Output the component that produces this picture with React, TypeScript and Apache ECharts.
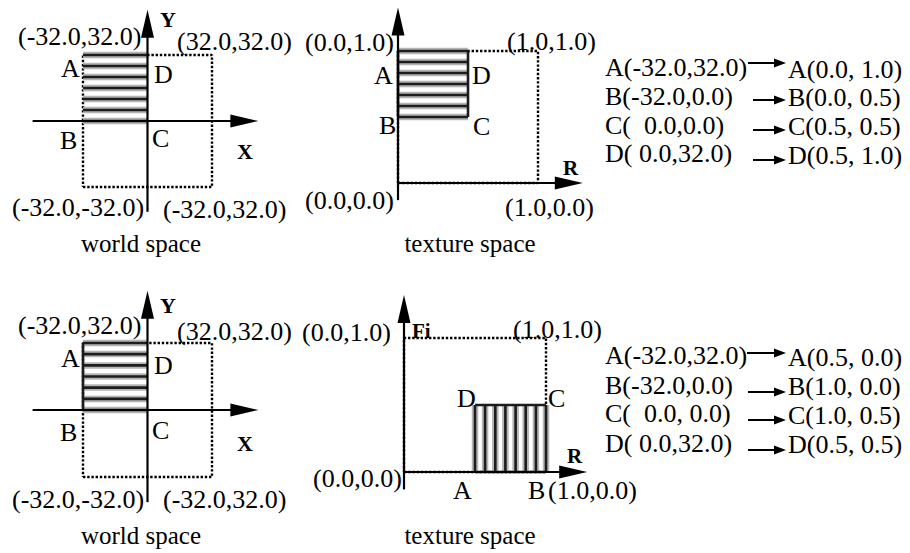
import React, { useEffect, useRef } from "react";
import * as echarts from "echarts";

// ---------- data ----------
const worldSquare = [[-32, -32], [32, -32], [32, 32], [-32, 32], [-32, -32]];
const texSquare = [[0, 0], [1, 0], [1, 1], [0, 1], [0, 0]];

// hatched rectangles [xMin, yMin, xMax, yMax]
const worldHatchRect = [-32, 0, 0, 32];
const texTopHatchRect = [0, 0.5, 0.5, 1];
const texBottomHatchRect = [0.5, 0, 1, 0.5];

// stripe positions
const worldStripesY = [0, 5.3, 10.7, 16, 21.3, 26.7, 32];
const texTopStripesV = [0.5, 0.583, 0.667, 0.75, 0.833, 0.917, 1.0];
const texBottomStripesU = [0.5, 0.571, 0.643, 0.714, 0.786, 0.857, 0.929, 1.0];

// axis arrows [x1, y1, x2(tip), y2(tip)]
const worldTopAxes = [[-57, 0, 55, 0], [0, -44, 0, 54]];
const worldBottomAxes = [[-57, 0, 55, 0], [0, -44, 0, 57]];
const texTopAxes = [[0, 0, 1.32, 0], [0, -0.13, 0, 1.33]];
const texBottomAxes = [[0, 0, 1.29, 0], [0, -0.13, 0, 1.32]];

// texts
const worldCornerLabels = ["(-32.0,32.0)", "(32.0,32.0)", "(-32.0,-32.0)", "(-32.0,32.0)"];
const texCornerLabels = ["(0.0,1.0)", "(1.0,1.0)", "(0.0,0.0)", "(1.0,0.0)"];
const vertexNames = ["A", "B", "C", "D"];
const axisNames = ["X", "Y", "R", "Fi"];
const captions = ["world space", "texture space"];
const topMapFrom = ["A(-32.0,32.0)", "B(-32.0,0.0)", "C(  0.0,0.0)", "D( 0.0,32.0)"];
const topMapTo = ["A(0.0, 1.0)", "B(0.0, 0.5)", "C(0.5, 0.5)", "D(0.5, 1.0)"];
const bottomMapFrom = ["A(-32.0,32.0)", "B(-32.0,0.0)", "C(  0.0, 0.0)", "D( 0.0,32.0)"];
const bottomMapTo = ["A(0.5, 0.0)", "B(1.0, 0.0)", "C(1.0, 0.5)", "D(0.5, 0.5)"];

// ---------- styling / layout ----------
const FONT = '"Liberation Serif", "Times New Roman", serif';

function segRender(halo: boolean, width: number) {
  return (params: any, api: any) => {
    const p1 = api.coord([api.value(0), api.value(1)]);
    const p2 = api.coord([api.value(2), api.value(3)]);
    const children: any[] = [];
    if (halo) {
      children.push({
        type: "line",
        shape: { x1: p1[0], y1: p1[1], x2: p2[0], y2: p2[1] },
        style: { stroke: "#b4b4b4", lineWidth: 6.5 },
      });
    }
    children.push({
      type: "line",
      shape: { x1: p1[0], y1: p1[1], x2: p2[0], y2: p2[1] },
      style: { stroke: "#1c1c1c", lineWidth: width },
    });
    return { type: "group", children };
  };
}

function arrowRender(params: any, api: any) {
  const p1 = api.coord([api.value(0), api.value(1)]);
  const p2 = api.coord([api.value(2), api.value(3)]);
  const dx = p2[0] - p1[0];
  const dy = p2[1] - p1[1];
  const len = Math.hypot(dx, dy) || 1;
  const ux = dx / len;
  const uy = dy / len;
  const hl = 28;
  const hw = 6.5;
  const bx = p2[0] - ux * hl;
  const by = p2[1] - uy * hl;
  return {
    type: "group",
    children: [
      {
        type: "line",
        shape: { x1: p1[0], y1: p1[1], x2: bx + ux * 3, y2: by + uy * 3 },
        style: { stroke: "#000", lineWidth: 2.2 },
      },
      {
        type: "polygon",
        shape: {
          points: [
            [p2[0], p2[1]],
            [bx - uy * hw, by + ux * hw],
            [bx + uy * hw, by - ux * hw],
          ],
        },
        style: { fill: "#000" },
      },
    ],
  };
}

function panelSeries(
  gi: number,
  square: number[][],
  stripes: number[][],
  outline: number[][],
  axes: number[][]
) {
  return [
    {
      type: "line",
      xAxisIndex: gi,
      yAxisIndex: gi,
      data: square,
      symbol: "none",
      clip: false,
      silent: true,
      lineStyle: { type: [2.4, 1.8], width: 2.4, color: "#000" },
      z: 2,
    },
    {
      type: "custom",
      xAxisIndex: gi,
      yAxisIndex: gi,
      data: stripes,
      renderItem: segRender(true, 2.6),
      clip: false,
      silent: true,
      z: 3,
    },
    {
      type: "custom",
      xAxisIndex: gi,
      yAxisIndex: gi,
      data: outline,
      renderItem: segRender(false, 2.6),
      clip: false,
      silent: true,
      z: 3,
    },
    {
      type: "custom",
      xAxisIndex: gi,
      yAxisIndex: gi,
      data: axes,
      renderItem: arrowRender,
      clip: false,
      silent: true,
      z: 4,
    },
  ];
}

function txt(text: string, x: number, y: number, size = 26, bold = false, align = "left", z = 10) {
  return {
    type: "text",
    x,
    y,
    z,
    silent: true,
    style: {
      text,
      fill: "#000",
      fontFamily: FONT,
      fontSize: size,
      fontWeight: bold ? "bold" : "normal",
      align,
      verticalAlign: "middle",
    },
  };
}

function mapArrow(x1: number, x2: number, y: number) {
  return [
    { type: "line", z: 10, shape: { x1, y1: y, x2: x2 - 9, y2: y }, style: { stroke: "#000", lineWidth: 2 } },
    {
      type: "polygon",
      z: 10,
      shape: { points: [[x2, y], [x2 - 12, y - 4.5], [x2 - 12, y + 4.5]] },
      style: { fill: "#000" },
    },
  ];
}

export default function App() {
  const ref = useRef<HTMLDivElement>(null);

  useEffect(() => {
    if (!ref.current) return;
    const chart = echarts.init(ref.current, null, { renderer: "svg" });

    const worldStripes = worldStripesY.map((y) => [worldHatchRect[0], y, worldHatchRect[2], y]);
    const texTopStripes = texTopStripesV.map((v) => [texTopHatchRect[0], v, texTopHatchRect[2], v]);
    const texBottomStripes = texBottomStripesU.map((u) => [u, texBottomHatchRect[1], u, texBottomHatchRect[3]]);

    const worldTopOutline: number[][] = [];
    const worldBottomOutline = [[worldHatchRect[0], worldHatchRect[1], worldHatchRect[0], worldHatchRect[3]]];
    const texTopOutline = [
      [texTopHatchRect[0], texTopHatchRect[1], texTopHatchRect[0], texTopHatchRect[3]],
      [texTopHatchRect[2], texTopHatchRect[1], texTopHatchRect[2], texTopHatchRect[3]],
    ];
    const texBottomOutline = [
      [texBottomHatchRect[0], texBottomHatchRect[1], texBottomHatchRect[2], texBottomHatchRect[1]],
      [texBottomHatchRect[0], texBottomHatchRect[3], texBottomHatchRect[2], texBottomHatchRect[3]],
    ];

    const grids = [
      { left: 83, top: 55, width: 129, height: 132 },
      { left: 398, top: 51, width: 140, height: 132 },
      { left: 83, top: 343, width: 129, height: 134 },
      { left: 404, top: 338, width: 142, height: 134 },
    ];
    const ranges = [
      [-32, 32],
      [0, 1],
      [-32, 32],
      [0, 1],
    ];

    const graphics: any[] = [];
    // world space panels
    const worldPanels = [
      { c: [36, 41, 207, 209], v: [68, 140, 138, 74], x: 151, y: 19, cap: 243 },
      { c: [325, 331, 499, 499], v: [358, 432, 430, 365], x: 443, y: 305, cap: 535 },
    ];
    worldPanels.forEach((p) => {
      graphics.push(txt(worldCornerLabels[0], 18, p.c[0]));
      graphics.push(txt(worldCornerLabels[1], 177, p.c[1]));
      graphics.push(txt(worldCornerLabels[2], 12, p.c[2]));
      graphics.push(txt(worldCornerLabels[3], 163, p.c[3]));
      graphics.push(txt(vertexNames[0], 61, p.v[0]));
      graphics.push(txt(vertexNames[1], 60, p.v[1]));
      graphics.push(txt(vertexNames[2], 152, p.v[2]));
      graphics.push(txt(vertexNames[3], 154, p.v[3]));
      graphics.push(txt(axisNames[0], 237, p.x, 22, true));
      graphics.push(txt(axisNames[1], 160, p.y, 22, true));
      graphics.push(txt(captions[0], 141, p.cap, 25, false, "center"));
    });

    // texture top
    graphics.push(txt(texCornerLabels[0], 305, 42));
    graphics.push(txt(texCornerLabels[1], 507, 41));
    graphics.push(txt(texCornerLabels[2], 305, 200));
    graphics.push(txt(texCornerLabels[3], 505, 207));
    graphics.push(txt(vertexNames[0], 374, 75));
    graphics.push(txt(vertexNames[1], 379, 125));
    graphics.push(txt(vertexNames[2], 473, 126));
    graphics.push(txt(vertexNames[3], 472, 75));
    graphics.push(txt(axisNames[2], 563, 168, 21, true));
    graphics.push(txt(captions[1], 470, 243, 25, false, "center"));

    // texture bottom
    graphics.push(txt(texCornerLabels[0], 302, 332));
    graphics.push(txt(texCornerLabels[1], 513, 329));
    graphics.push(txt(texCornerLabels[2], 313, 478));
    graphics.push(txt(texCornerLabels[3], 548, 490));
    graphics.push(txt(vertexNames[0], 453, 490));
    graphics.push(txt(vertexNames[1], 528, 490));
    graphics.push(txt(vertexNames[2], 548, 398));
    graphics.push(txt(vertexNames[3], 457, 398));
    graphics.push(txt(axisNames[2], 567, 456, 21, true));
    graphics.push(txt(axisNames[3], 412, 331, 21, true, "left", 0));
    graphics.push({ type: "rect", z: 1, silent: true, shape: { x: 408, y: 338, width: 30, height: 12 }, style: { fill: "#fff" } });
    graphics.push(txt(captions[1], 470, 535, 25, false, "center"));

    // mapping tables
    const topFromY = [67, 96.5, 125, 153.5];
    const topToY = [69.5, 97.5, 126, 155.5];
    const topArrow = [[748, 63], [753, 100], [753, 130], [753, 160]];
    topMapFrom.forEach((t, i) => graphics.push(txt(t, 605, topFromY[i])));
    topMapTo.forEach((t, i) => graphics.push(txt(t, 788, topToY[i])));
    topArrow.forEach((a) => graphics.push(...mapArrow(a[0], 786, a[1])));

    const botFromY = [355, 385, 413.5, 443.5];
    const botToY = [357.5, 386, 415, 444.5];
    const botArrow = [[747, 353], [748, 392], [748, 420], [748, 450]];
    bottomMapFrom.forEach((t, i) => graphics.push(txt(t, 605, botFromY[i])));
    bottomMapTo.forEach((t, i) => graphics.push(txt(t, 788, botToY[i])));
    botArrow.forEach((a) => graphics.push(...mapArrow(a[0], 786, a[1])));

    const option: any = {
      animation: false,
      backgroundColor: "#fff",
      grid: grids,
      xAxis: grids.map((g, i) => ({
        type: "value",
        gridIndex: i,
        min: ranges[i][0],
        max: ranges[i][1],
        show: false,
      })),
      yAxis: grids.map((g, i) => ({
        type: "value",
        gridIndex: i,
        min: ranges[i][0],
        max: ranges[i][1],
        show: false,
      })),
      graphic: { elements: graphics },
      series: [
        ...panelSeries(0, worldSquare, worldStripes, worldTopOutline, worldTopAxes),
        ...panelSeries(1, texSquare, texTopStripes, texTopOutline, texTopAxes),
        ...panelSeries(2, worldSquare, worldStripes, worldBottomOutline, worldBottomAxes),
        ...panelSeries(3, texSquare, texBottomStripes, texBottomOutline, texBottomAxes),
      ],
    };

    chart.setOption(option);
    return () => chart.dispose();
  }, []);

  return (
    <div
      ref={ref}
      style={{ position: "absolute", left: 0, top: 0, width: 910, height: 553, background: "#fff" }}
    />
  );
}
